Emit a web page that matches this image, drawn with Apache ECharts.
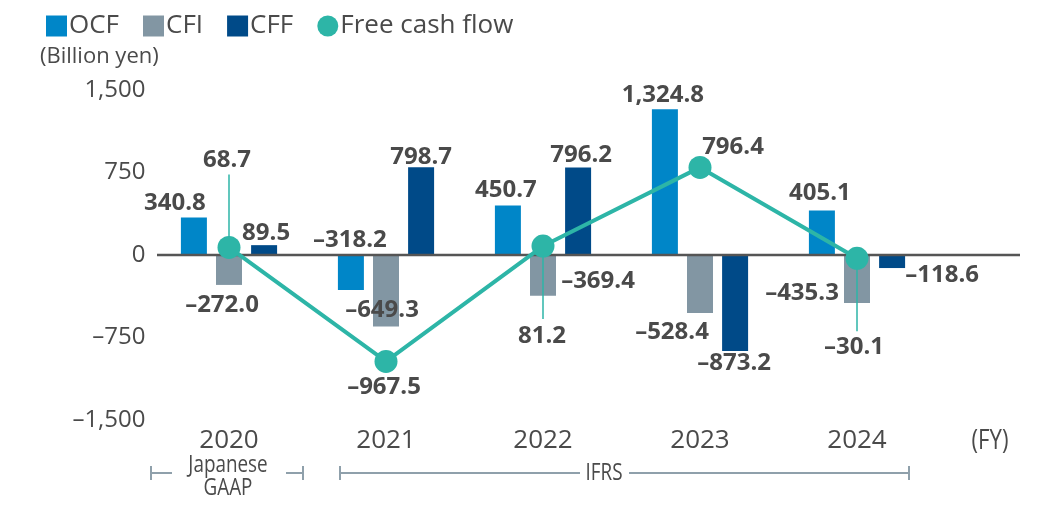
<!DOCTYPE html>
<html>
<head>
<meta charset="utf-8">
<script src="https://cdn.jsdelivr.net/npm/echarts@6/dist/echarts.min.js"></script>
<style>
html, body { margin: 0; padding: 0; background: #fff; }
#main { width: 1046px; height: 509px; }
</style>
</head>
<body>
<div id="main"></div>
<script>
var years = ['2020', '2021', '2022', '2023', '2024'];
var ocf = [340.8, -318.2, 450.7, 1324.8, 405.1];
var cfi = [-272.0, -649.3, -369.4, -528.4, -435.3];
var cff = [89.5, 798.7, 796.2, -873.2, -118.6];
var fcf = [68.7, -967.5, 81.2, 796.4, -30.1];
var yTicks = [-1500, -750, 0, 750, 1500];

// label placement per bar: [position, offset]
var ocfLbl = [['top', [-19, -2]], ['top', [-1, -3]], ['top', [-2, -3]], ['top', [-2, -2]], ['top', [-2, -5]]];
var cfiLbl = [['bottom', [-7, 8]], ['bottom', [-4, -28]], ['bottom', [55, -26]], ['bottom', [-28, 7]], ['bottom', [-55, -22]]];
var cffLbl = [['top', [2, 0]], ['top', [0, 2]], ['top', [3, 0]], ['bottom', [-1, 0]], ['bottom', [50, -5]]];
var fcfLbl = [[-2, -87], [-2, 26], [-1, 90], [33, -20], [-3, 89]];
var leaderDir = [-1, 0, 1, 0, 1]; // 吹き出し線の向き

var colors = { ocf: '#0086c8', cfi: '#8296a3', cff: '#004a88', fcf: '#2db5a7' };
var txt = '#4a4a4a';

function fmt (v, d) {
	var s = Math.abs(v).toLocaleString('en-US', { minimumFractionDigits: d, maximumFractionDigits: d });
	return (v < 0 ? '\u2013' : '') + s;
}

function barData (vals, lbl) {
	return vals.map(function (v, i) {
		return { value: v, label: { position: lbl[i][0], offset: lbl[i][1] } };
	});
}

function barSeries (name, vals, lbl, color) {
	return {
		name: name,
		type: 'bar',
		barWidth: 26,
		barGap: '35%',
		itemStyle: { color: color },
		label: {
			show: true,
			distance: 0,
			fontSize: 24,
			fontWeight: 'bold',
			color: txt,
			formatter: function (p) { return fmt(p.value, 1) }
		},
		data: barData(vals, lbl)
	}
}

var chart = echarts.init(document.getElementById('main'));
chart.setOption({
	animation: false,
	textStyle: { fontFamily: '"Open Sans", sans-serif' },
	legend: {
		left: 41,
		top: 8,
		itemWidth: 21,
		itemHeight: 21,
		itemGap: 24,
		textStyle: { fontSize: 26, color: txt, padding: [0, 0, 0, -3] },
		data: [
			{ name: 'OCF', icon: 'rect' },
			{ name: 'CFI', icon: 'rect' },
			{ name: 'CFF', icon: 'rect' },
			{ name: 'Free cash flow', icon: 'circle' }
		]
	},
	grid: { left: 150.5, right: 110.5, top: 90, bottom: 89 },
	xAxis: {
		type: 'category',
		data: years,
		axisLine: { show: false, onZero: false },
		axisTick: { show: false },
		axisLabel: { fontSize: 26, color: txt, margin: 8 }
	},
	yAxis: {
		type: 'value',
		min: yTicks[0],
		max: yTicks[yTicks.length - 1],
		interval: yTicks[1] - yTicks[0],
		splitLine: { show: false },
		axisLine: { show: false },
		axisTick: { show: false },
		axisLabel: {
			fontSize: 24,
			color: txt,
			margin: 5,
			formatter: function (v) { return fmt(v, 0) }
		}
	},
	series: [
		barSeries('OCF', ocf, ocfLbl, colors.ocf),
		barSeries('CFI', cfi, cfiLbl, colors.cfi),
		barSeries('CFF', cff, cffLbl, colors.cff),
		{
			name: 'leader',
			type: 'custom',
			z: 4,
			silent: true,
			renderItem: function (params, api) {
				var dir = leaderDir[params.dataIndex];
				if (!dir) return null;
				var pt = api.coord([api.value(0), api.value(1)]);
				return {
					type: 'line',
					shape: { x1: pt[0], y1: pt[1], x2: pt[0], y2: pt[1] + dir * 73 },
					style: { stroke: colors.fcf, lineWidth: 1.5 }
				}
			},
			data: fcf.map(function (v, i) { return [i, v] })
		},
		{
			name: 'Free cash flow',
			type: 'line',
			z: 5,
			symbol: 'circle',
			symbolSize: 23,
			lineStyle: { color: colors.fcf, width: 4 },
			itemStyle: { color: colors.fcf },
			label: {
				show: true,
				position: 'inside',
				fontSize: 24,
				fontWeight: 'bold',
				color: txt,
				formatter: function (p) { return fmt(p.value, 1) }
			},
			data: fcf.map(function (v, i) {
				return { value: v, label: { offset: fcfLbl[i] } }
			})
		}
	]
});

var zeroY = chart.convertToPixel({ yAxisIndex: 0 }, 0);
var bracket = '#8fa0ab';
function hline (x1, x2, y) {
	return { type: 'line', shape: { x1: x1, y1: y, x2: x2, y2: y }, style: { stroke: bracket, lineWidth: 2 } }
}
function vtick (x, y) {
	return { type: 'line', shape: { x1: x, y1: y - 7, x2: x, y2: y + 7 }, style: { stroke: bracket, lineWidth: 2 } }
}
function ctext (s, x, y, size) {
	// 細めの書体の代わりに横方向を縮める
	return { type: 'text', x: x, y: y, scaleX: 0.82, style: { text: s, font: size + 'px "Open Sans"', fill: txt, align: 'center', verticalAlign: 'middle' } }
}
var by = 473;
chart.setOption({
	graphic: [
		{ type: 'line', z: 3, shape: { x1: 157, y1: zeroY, x2: 1020, y2: zeroY }, style: { stroke: '#555', lineWidth: 2.5 } },
		{ type: 'text', left: 40, top: 46, style: { text: '(Billion yen)', font: '22px "Open Sans"', fill: txt } },
		ctext('(FY)', 990, 441, 27),
		ctext('Japanese', 228, 465, 23),
		ctext('GAAP', 228, 488, 23),
		ctext('IFRS', 604, by, 23),
		hline(151, 172, by), hline(286, 303, by), vtick(151, by), vtick(303, by),
		hline(340, 580, by), hline(629, 909, by), vtick(340, by), vtick(909, by)
	]
});
</script>
</body>
</html>
